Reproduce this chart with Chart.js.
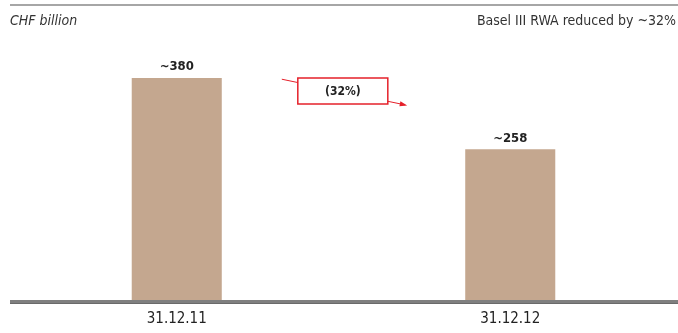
<!DOCTYPE html>
<html>
<head>
<meta charset="utf-8">
<script src="https://cdn.jsdelivr.net/npm/chart.js@4"></script>
<style>
  body { margin: 0; background: #fff; }
  canvas { display: block; }
</style>
</head>
<body>
<canvas id="rwa" width="678" height="333"></canvas>
<script>
const categories = ["31.12.11", "31.12.12"];
const rwaValues = [380, 258];
const valueLabels = ["~380", "~258"];
const changeLabel = "(32%)";
const unitLabel = "CHF billion";
const headline = "Basel III RWA reduced by ~32%";

const FONT = '"Liberation Sans Narrow", "DejaVu Sans Condensed", "Roboto", sans-serif';

// headers, value labels, base line and the red change arrow
const decorations = {
  id: "decorations",
  afterDraw(chart) {
    const { ctx, scales: { x, y } } = chart;
    ctx.save();

    ctx.fillStyle = "#a6a6a6";
    ctx.fillRect(10, 4, 668, 2);

    // base line
    ctx.fillStyle = "#7f7f7f";
    ctx.fillRect(10, y.getPixelForValue(0), 668, 4);
    ctx.fillStyle = "#6a6a6a";
    ctx.fillRect(10, y.getPixelForValue(0) + 3, 668, 1);

    ctx.fillStyle = "#333";
    ctx.textBaseline = "middle";
    ctx.font = "italic 14px " + FONT;
    ctx.textAlign = "left";
    ctx.fillText(unitLabel, 10, 21);
    ctx.font = "14px " + FONT;
    ctx.textAlign = "right";
    ctx.fillText(headline, 676, 21);

    ctx.font = "bold 13px " + FONT;
    ctx.textAlign = "center";
    ctx.fillStyle = "#222";
    rwaValues.forEach((v, i) => {
      ctx.fillText(valueLabels[i], x.getPixelForValue(i), y.getPixelForValue(v) - 11);
    });

    // arrow from first bar to second
    const x0 = x.getPixelForValue(0.315), y0 = y.getPixelForValue(378);
    const x1 = x.getPixelForValue(0.685), y1 = y.getPixelForValue(334);
    ctx.strokeStyle = "#e5202a";
    ctx.fillStyle = "#e5202a";
    ctx.lineWidth = 1;
    ctx.beginPath();
    ctx.moveTo(x0, y0);
    ctx.lineTo(x1, y1);
    ctx.stroke();
    const ang = Math.atan2(y1 - y0, x1 - x0);
    ctx.beginPath();
    ctx.moveTo(x1 + 2, y1 + 0.5);
    ctx.lineTo(x1 - 6 * Math.cos(ang - 0.45), y1 - 6 * Math.sin(ang - 0.45));
    ctx.lineTo(x1 - 6 * Math.cos(ang + 0.45), y1 - 6 * Math.sin(ang + 0.45));
    ctx.closePath();
    ctx.fill();

    const bx = x.getPixelForValue(0.363), by = 78, bw = 90, bh = 26;
    ctx.fillStyle = "#fff";
    ctx.fillRect(bx, by, bw, bh);
    ctx.lineWidth = 1.5;
    ctx.strokeRect(bx, by, bw, bh);
    ctx.fillStyle = "#222";
    ctx.font = "bold 12px " + FONT;
    ctx.fillText(changeLabel, bx + bw / 2, by + bh / 2 + 1);

    ctx.restore();
  }
};

new Chart(document.getElementById("rwa"), {
  type: "bar",
  data: {
    labels: categories,
    datasets: [{
      data: rwaValues,
      backgroundColor: "#c4a78f",
      borderWidth: 0,
      categoryPercentage: 1,
      barPercentage: 0.27
    }]
  },
  options: {
    responsive: false,
    animation: false,
    layout: { padding: { left: 10, right: 1, top: 43, bottom: 0 } },
    plugins: {
      legend: { display: false },
      tooltip: { enabled: false }
    },
    scales: {
      x: {
        grid: { display: false },
        border: { display: false },
        ticks: { color: "#222", font: { family: FONT, size: 15 }, padding: 2 },
        afterFit(scale) { scale.height = 33; }
      },
      y: {
        display: false,
        min: 0,
        max: 440
      }
    }
  },
  plugins: [decorations]
});
</script>
</body>
</html>
